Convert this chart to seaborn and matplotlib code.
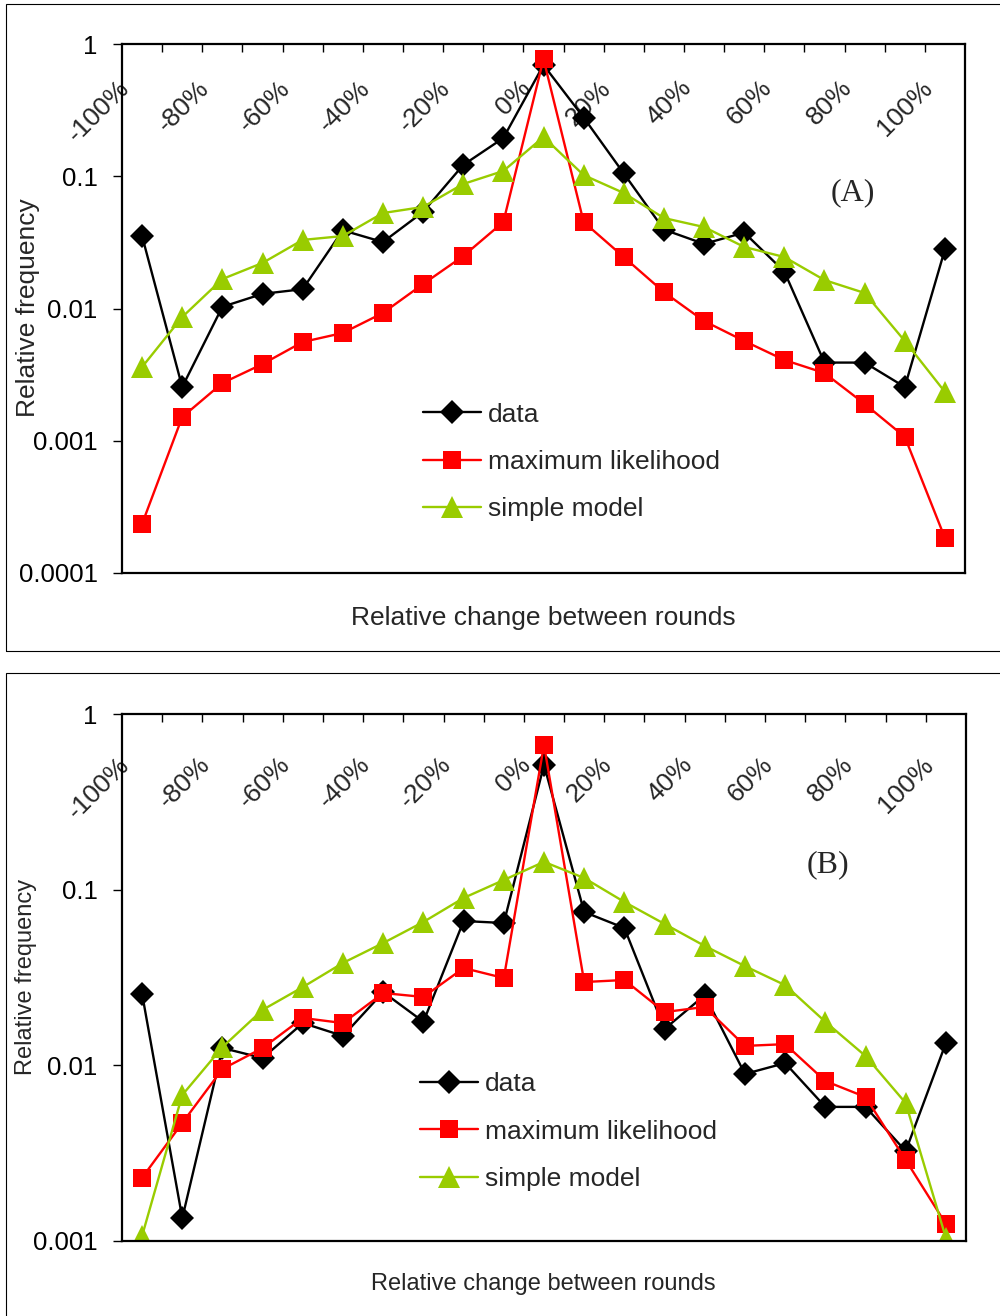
import numpy as np
import matplotlib
matplotlib.use('Agg')
import matplotlib.pyplot as plt
import matplotlib.transforms as mtransforms
from matplotlib.patches import Rectangle
import seaborn as sns

sns.set_theme(style='white')
plt.rcParams['font.family'] = ['Liberation Sans', 'DejaVu Sans']

# categories: relative change between rounds, -100% .. 100% in 10% steps
categories = ['-100%', '-90%', '-80%', '-70%', '-60%', '-50%', '-40%', '-30%',
              '-20%', '-10%', '0%', '10%', '20%', '30%', '40%', '50%', '60%',
              '70%', '80%', '90%', '100%']
shown_labels = categories[::2]

# panel A
data_a = [0.0353, 0.00255, 0.0103, 0.0129, 0.0140, 0.0390, 0.0318, 0.0537,
          0.1217, 0.1946, 0.694, 0.278, 0.105, 0.0395, 0.0308, 0.0375,
          0.0190, 0.0039, 0.0039, 0.00255, 0.0280]
ml_a = [0.000235, 0.00151, 0.00273, 0.0038, 0.00558, 0.00653, 0.00925, 0.0153,
        0.0249, 0.0451, 0.77, 0.0451, 0.0245, 0.0133, 0.00804, 0.00568,
        0.00408, 0.00325, 0.0019, 0.00107, 0.000184]
simple_a = [0.00361, 0.00862, 0.0167, 0.0221, 0.033, 0.0353, 0.0527, 0.0586,
            0.0874, 0.1096, 0.198, 0.102, 0.0747, 0.0483, 0.0413, 0.0292,
            0.0245, 0.0164, 0.0131, 0.00568, 0.00234]

# panel B
data_b = [0.0255, 0.00135, 0.01255, 0.0110, 0.0174, 0.0147, 0.0261, 0.0177,
          0.0663, 0.0646, 0.513, 0.0746, 0.0605, 0.0161, 0.0251, 0.00893,
          0.0103, 0.0058, 0.0058, 0.00325, 0.0134]
ml_b = [0.00229, 0.0047, 0.00953, 0.01255, 0.0186, 0.0174, 0.0258, 0.0245,
        0.0358, 0.0314, 0.666, 0.0298, 0.0306, 0.0201, 0.0215, 0.0129,
        0.0132, 0.00814, 0.0066, 0.00289, 0.00125]
simple_b = [0.00107, 0.00678, 0.0127, 0.0207, 0.0279, 0.0383, 0.0497, 0.0655,
            0.0897, 0.1135, 0.144, 0.1165, 0.0851, 0.0638, 0.0478, 0.0367,
            0.0286, 0.0177, 0.0113, 0.0061, 0.00104]

GREEN = '#99CC00'
pos = np.arange(len(categories))

fig = plt.figure(figsize=(10, 13.16), dpi=100)

# outer frames around each panel
fig.patches.append(Rectangle((0.006, 1 - 651 / 1316), 1.0, (651 - 4) / 1316,
                             transform=fig.transFigure, fill=False,
                             edgecolor='black', linewidth=0.8))
fig.patches.append(Rectangle((0.006, -0.01), 1.0, 0.01 + 1 - 673 / 1316,
                             transform=fig.transFigure, fill=False,
                             edgecolor='black', linewidth=0.8))

ax_a = fig.add_axes([0.122, 1 - 573 / 1316, 0.843, 529 / 1316])
ax_b = fig.add_axes([0.122, 1 - 1241 / 1316, 0.844, 527 / 1316])


def draw_panel(ax, d, ml, sm, ymin, yticks, ylabels, label_y, tag, tag_xy,
               leg_anchor):
    sns.lineplot(x=pos, y=d, ax=ax, color='black', marker='D', markersize=12,
                 markeredgewidth=0, linewidth=1.7, label='data')
    sns.lineplot(x=pos, y=ml, ax=ax, color='#FF0000', marker='s', markersize=13,
                 markeredgewidth=0, linewidth=1.7, label='maximum likelihood')
    sns.lineplot(x=pos, y=sm, ax=ax, color=GREEN, marker='^', markersize=16.5,
                 markeredgewidth=0, linewidth=1.7, label='simple model')
    ax.set_yscale('log')
    ax.set_ylim(ymin, 1)
    ax.set_xlim(-0.5, len(categories) - 0.5)
    ax.minorticks_off()
    ax.set_yticks(yticks)
    ax.set_yticklabels(ylabels)
    ax.set_xticks(np.arange(0.5, len(categories) - 1))
    ax.set_xticklabels([])
    ax.tick_params(axis='y', direction='out', length=6.5, width=1, pad=11,
                   labelsize=18.5, left=True, colors='black')
    ax.tick_params(axis='x', direction='in', length=6, width=1, top=True,
                   bottom=False, labeltop=False, labelbottom=False,
                   colors='black')
    for s in ax.spines.values():
        s.set_linewidth(1.6)
        s.set_color('black')
    ax.set_xlabel('')
    ax.set_ylabel('')
    trans = mtransforms.blended_transform_factory(ax.transData, ax.transAxes)
    for i, lab in enumerate(categories):
        if lab in shown_labels:
            ax.text(i - 0.2, label_y, lab, transform=trans, rotation=45,
                    ha='right', va='top', fontsize=19, zorder=1)
    ax.text(tag_xy[0], tag_xy[1], tag, transform=ax.transAxes,
            family='Liberation Serif', fontsize=23, ha='center', va='center')
    ax.legend(loc='upper left', bbox_to_anchor=leg_anchor,
              frameon=False, fontsize=19, handlelength=2.2,
              handletextpad=0.25, labelspacing=0.88, borderpad=0,
              borderaxespad=0)


draw_panel(ax_a, data_a, ml_a, simple_a, 1e-4, [1, 0.1, 0.01, 0.001, 0.0001],
           ['1', '0.1', '0.01', '0.001', '0.0001'], 0.94, '(A)',
           ((853 - 122) / 843, (573 - 193) / 529), (0.357, 0.322))
draw_panel(ax_b, data_b, ml_b, simple_b, 1e-3, [1, 0.1, 0.01, 0.001],
           ['1', '0.1', '0.01', '0.001'], 0.927, '(B)',
           ((828 - 122) / 844, (1241 - 865) / 527), (0.353, 0.32))

fig.text(543.5 / 1000, 1 - 618 / 1316, 'Relative change between rounds',
         ha='center', va='center', fontsize=19)
fig.text(28 / 1000, 1 - 308 / 1316, 'Relative frequency', rotation=90,
         ha='center', va='center', fontsize=19)
fig.text(543.5 / 1000, 1 - 1284 / 1316, 'Relative change between rounds',
         ha='center', va='center', fontsize=17)
fig.text(26 / 1000, 1 - 977 / 1316, 'Relative frequency', rotation=90,
         ha='center', va='center', fontsize=17)

fig.savefig('out.png', dpi=100)
